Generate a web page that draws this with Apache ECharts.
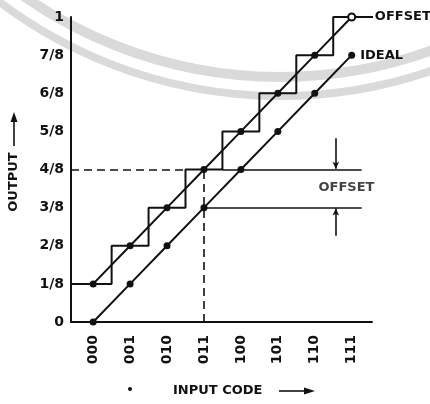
<!DOCTYPE html>
<html>
<head>
<meta charset="utf-8">
<script src="https://cdn.jsdelivr.net/npm/echarts@6/dist/echarts.min.js"></script>
<style>
html,body{margin:0;padding:0;background:#fff;}
#c{width:430px;height:404px;}
</style>
</head>
<body>
<div id="c"></div>
<script>
// ---- data ----
var codes = ['000','001','010','011','100','101','110','111'];
var idealOut = [0,1,2,3,4,5,6,7];      // output in eighths
var offsetOut = [1,2,3,4,5,6,7,8];     // output in eighths (1/8 LSB offset)
var yTickLabels = ['0','1/8','2/8','3/8','4/8','5/8','6/8','7/8','1'];
var xTickValues = [0,1,2,3,4,5,6,7];

// ---- chart ----
var INK = '#111';
var FONT = 'DejaVu Sans';
var X_MIN = -0.6, X_MAX = 7.55;

var stairData = [[X_MIN, offsetOut[0]]].concat(codes.map(function(c,i){return [i, offsetOut[i]];}));
var offsetData = codes.map(function(c,i){
  var d = {value:[i, offsetOut[i]]};
  if (i === codes.length-1) d.itemStyle = {color:'#fff', borderColor:INK, borderWidth:2};
  return d;
});
var idealData = codes.map(function(c,i){
  var d = {value:[i, idealOut[i]]};
  if (i === codes.length-1) d.label = {show:true, formatter:'IDEAL', position:'right', distance:5,
    color:INK, fontFamily:FONT, fontWeight:'bold', fontSize:13};
  return d;
});

var dash = [8,5];
var thin = {color:INK, width:1.6, type:'solid'};
var chart = echarts.init(document.getElementById('c'), null, {renderer:'canvas'});
chart.setOption({
  animation:false,
  backgroundColor:'#fff',
  grid:{left:71, right:58, top:17, bottom:82},
  xAxis:{
    type:'value', min:X_MIN, max:X_MAX,
    axisLine:{show:true, onZero:false, lineStyle:{color:INK, width:2}},
    axisTick:{show:false}, splitLine:{show:false},
    axisLabel:{customValues:xTickValues, rotate:90, margin:13,
      formatter:function(v){return codes[Math.round(v)];},
      color:INK, fontFamily:FONT, fontWeight:'bold', fontSize:14}
  },
  yAxis:{
    type:'value', min:0, max:8, interval:1,
    axisLine:{show:true, onZero:false, lineStyle:{color:INK, width:2}},
    axisTick:{show:false}, splitLine:{show:false},
    axisLabel:{margin:7, formatter:function(v){return yTickLabels[v];},
      color:INK, fontFamily:FONT, fontWeight:'bold', fontSize:14}
  },
  series:[
    {type:'line', name:'stair', step:'middle', data:stairData, showSymbol:false,
     lineStyle:{color:INK, width:2}, silent:true, z:3},
    {type:'line', name:'offset', data:offsetData, symbol:'circle', symbolSize:7,
     itemStyle:{color:INK}, lineStyle:{color:INK, width:2}, silent:true, z:4},
    {type:'line', name:'ideal', data:idealData, symbol:'circle', symbolSize:7,
     itemStyle:{color:INK}, lineStyle:{color:INK, width:2}, silent:true, z:4,
     markLine:{
       silent:true, symbol:'none', label:{show:false}, lineStyle:thin, animation:false,
       data:[
         [{coord:[X_MIN,4], lineStyle:{color:INK,width:1.6,type:dash}},{coord:[2.5,4]}],
         [{coord:[3,0], lineStyle:{color:INK,width:1.6,type:dash}},{coord:[3,4]}],
         [{coord:[3.5,4], lineStyle:thin},{coord:[7.27,4]}],
         [{coord:[3,3], lineStyle:thin},{coord:[7.27,3]}],
         [{coord:[6.57,4.82], symbol:'none', lineStyle:thin},{coord:[6.57,4.02], symbol:'arrow', symbolSize:[5,7]}],
         [{coord:[6.57,2.26], symbol:'none', lineStyle:thin},{coord:[6.57,2.98], symbol:'arrow', symbolSize:[5,7]}]
       ]
     }},
    {type:'line', name:'offsetTag', data:[[7.1,8],{value:[7.6,8], label:{show:true, formatter:'OFFSET',
       position:'right', distance:1, color:INK, fontFamily:FONT, fontWeight:'bold', fontSize:13}}],
     showSymbol:true, symbolSize:0, lineStyle:{color:INK, width:2}, silent:true, clip:false, z:4},
    {type:'scatter', name:'offsetNote', data:[[6.86,3.52]], symbolSize:0, silent:true,
     label:{show:true, formatter:'OFFSET', position:'inside', color:INK, fontFamily:FONT, fontWeight:'bold', fontSize:13}}
  ],
  graphic:[
    {type:'arc', z:-10, silent:true, shape:{cx:280, cy:-369, r:446, startAngle:0, endAngle:Math.PI},
     style:{stroke:'#dadada', lineWidth:10, fill:null}},
    {type:'arc', z:-10, silent:true, shape:{cx:280, cy:-369, r:465, startAngle:0, endAngle:Math.PI},
     style:{stroke:'#dadada', lineWidth:8, fill:null}},
    {type:'text', x:14, y:182, rotation:Math.PI/2, silent:true,
     style:{text:'OUTPUT', align:'center', verticalAlign:'middle', fill:INK,
       font:'bold 13px "DejaVu Sans"'}},
    {type:'line', silent:true, shape:{x1:14, y1:146, x2:14, y2:120}, style:{stroke:INK, lineWidth:1.6}},
    {type:'polygon', silent:true, shape:{points:[[14,112],[10.5,122],[17.5,122]]}, style:{fill:INK}},
    {type:'text', x:173, y:391, silent:true,
     style:{text:'INPUT CODE', align:'left', verticalAlign:'middle', fill:INK,
       font:'bold 13px "DejaVu Sans"'}},
    {type:'line', silent:true, shape:{x1:279, y1:391, x2:306, y2:391}, style:{stroke:INK, lineWidth:1.6}},
    {type:'polygon', silent:true, shape:{points:[[315,391],[304,387.5],[304,394.5]]}, style:{fill:INK}},
    {type:'circle', silent:true, shape:{cx:130, cy:389, r:2}, style:{fill:INK}}
  ]
});
</script>
</body>
</html>
